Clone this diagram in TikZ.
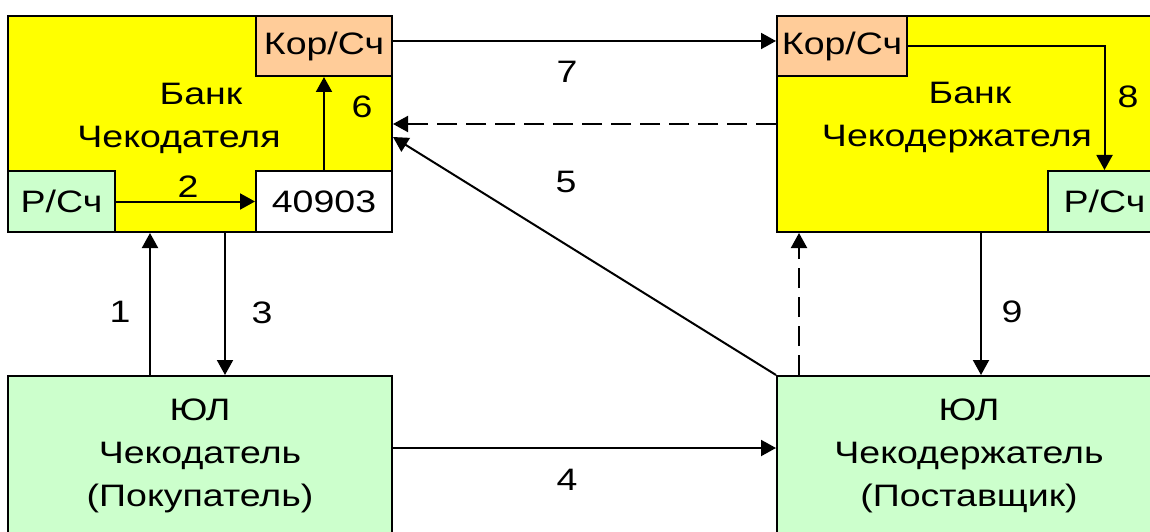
\documentclass[tikz,border=0pt]{standalone}
\usepackage{fontspec}
\setmainfont{Liberation Sans}[FakeStretch=1.21]
\usepackage{xcolor}
\usetikzlibrary{positioning, arrows.meta, calc}

\definecolor{bankyellow}{RGB}{255,255,0}
\definecolor{korpeach}{RGB}{255,204,153}
\definecolor{acctgreen}{RGB}{204,255,204}

\begin{document}
\begin{tikzpicture}[
  x=1pt, y=1pt, line width=2pt,
  font=\fontsize{31}{43}\selectfont, >={Triangle[length=15pt, width=16pt]},
  bank/.style={draw, fill=bankyellow, minimum width=384pt, minimum height=216pt, inner sep=0pt},
  firm/.style={draw, fill=acctgreen, minimum width=384pt, minimum height=160pt, align=center, inner sep=0pt},
  acct/.style={draw, minimum height=61pt, inner sep=0pt},
  lbl/.style={align=center, inner sep=0pt},
  num/.style={inner sep=1pt},
  dsh/.style={dash pattern=on 20pt off 9pt}]
\useasboundingbox (0,0) rectangle (1150,531);
\clip (0,0) rectangle (1150,531);

% banks with their accounts
\node[bank] (bankA) at (200,407) {};
\node[bank] (bankB) at (969,407) {};
\node[acct, fill=korpeach, minimum width=136pt, minimum height=60pt, anchor=north east] (korA) at (bankA.north east) {Кор/Сч};
\node[acct, fill=white, minimum width=136pt, anchor=south east] (accA) at (bankA.south east) {40903};
\node[acct, fill=acctgreen, minimum width=107pt, anchor=south west] (rsA) at (bankA.south west) {Р/Сч};
\node[acct, fill=korpeach, minimum width=130pt, minimum height=60pt, anchor=north west] (korB) at (bankB.north west) {Кор/Сч};
\node[acct, fill=acctgreen, minimum width=113pt, anchor=south east] (rsB) at (bankB.south east) {Р/Сч};
\node[lbl] (lblA) at (201,413) {Банк\\Чекодателя\hspace*{44pt}};
\node[lbl] (lblB) at (970,413) {Банк\\Чекодержателя\hspace*{26pt}};

% firms
\node[firm] (firmA) at (200,75) {ЮЛ\\Чекодатель\\(Покупатель)};
\node[firm] (firmB) at (969,75) {ЮЛ\\Чекодержатель\\(Поставщик)};

% flows
\draw[->] ([xshift=-50pt]firmA.north) -- ([xshift=-50pt]bankA.south);
\draw[->] (rsA) -- (accA);
\draw[->] ([xshift=25pt]bankA.south) -- ([xshift=25pt]firmA.north);
\draw[->] ([yshift=8pt]firmA.east) -- ([yshift=8pt]firmB.west);
\draw[->] (firmB.north west) -- ([yshift=-13pt]bankA.east);
\draw[->] (accA) -- (korA);
\draw[->] ([yshift=5pt]korA.east) -- ([yshift=5pt]korB.west);
\draw[->] (korB.east) -| (rsB.north);
\draw[->] ([xshift=12pt]bankB.south) -- ([xshift=12pt]firmB.north);
\draw[->, dsh] (bankB.west) -- (bankA.east);
\draw[->, dsh] ([xshift=23pt]firmB.north west) -- ([xshift=23pt]bankB.south west);

% step numbers
\node[num] (n1) at (120,219) {1};
\node[num] (n2) at (188,344) {2};
\node[num] (n3) at (262,218) {3};
\node[num] (n4) at (567,51) {4};
\node[num] (n5) at (566,349) {5};
\node[num] (n6) at (362,424) {6};
\node[num] (n7) at (567,459) {7};
\node[num] (n8) at (1128,434) {8};
\node[num] (n9) at (1012,219) {9};
\end{tikzpicture}
\end{document}
